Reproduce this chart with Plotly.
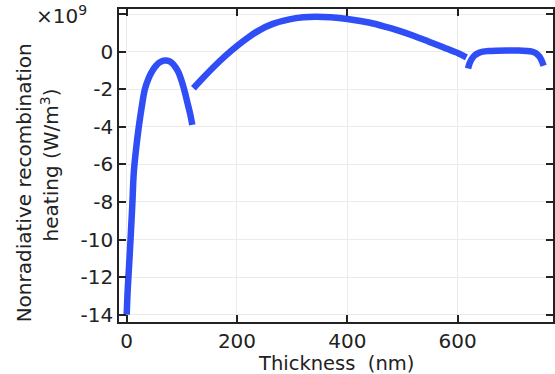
import plotly.graph_objects as go

# Segment 1 (0-120 nm)
x1 = [0, 2, 4, 7, 10, 13, 17, 22, 27, 33, 40, 47, 54, 61, 67, 72, 78, 84, 89, 94, 99, 105, 110, 115, 119]
y1 = [-14, -12.6, -11.6, -10, -8.3, -6.4, -5.2, -4.0, -3.0, -2.0, -1.4, -1.0, -0.72, -0.55, -0.48, -0.47,
      -0.52, -0.66, -0.85, -1.1, -1.5, -2.1, -2.7, -3.3, -3.9]
# Segment 2 (120-617 nm)
x2 = [121, 140, 160, 180, 200, 220, 241, 265, 295, 320, 343, 370, 400, 439, 470, 493, 520, 548, 575, 602, 616]
y2 = [-1.95, -1.35, -0.75, -0.2, 0.3, 0.75, 1.15, 1.48, 1.72, 1.83, 1.86, 1.83, 1.74, 1.55, 1.32, 1.12,
      0.85, 0.53, 0.22, -0.1, -0.3]
# Segment 3 (619-756 nm)
x3 = [619, 622, 626, 631, 638, 646, 655, 670, 690, 710, 725, 735, 742, 748, 752, 756]
y3 = [-0.9, -0.6, -0.38, -0.2, -0.07, 0.0, 0.03, 0.05, 0.06, 0.06, 0.04, 0.0, -0.08, -0.25, -0.45, -0.75]

ytick_vals = [-14, -12, -10, -8, -6, -4, -2, 0, 2]
ytick_text = ["-14", "-12", "-10", "-8", "-6", "-4", "-2", "0", ""]
xtick_vals = [0, 200, 400, 600, 800]

color = "#1f3ff5"
fig = go.Figure()
for xs, ys in [(x1, y1), (x2, y2), (x3, y3)]:
    fig.add_trace(go.Scatter(x=xs, y=ys, mode="lines", line=dict(color=color, width=6.5, shape="spline"),
                             opacity=0.92, showlegend=False, hoverinfo="skip"))

font = dict(family="DejaVu Sans", size=20, color="#222")
axis_common = dict(showline=True, linecolor="#222", linewidth=1.5, mirror="ticks", ticks="inside",
                   ticklen=7, tickcolor="#222", tickwidth=1.5, showgrid=True, gridcolor="#ebebeb",
                   gridwidth=1, zeroline=False, tickfont=font)
fig.update_layout(
    width=555, height=374, margin=dict(l=119, r=0, t=9, b=52),
    plot_bgcolor="white", paper_bgcolor="white", font=font,
    xaxis=dict(range=[-13.9, 773], tickvals=xtick_vals, **axis_common),
    yaxis=dict(range=[-14.39, 2.27], tickvals=ytick_vals, ticktext=ytick_text, **axis_common),
)
fig.add_annotation(text="×10<sup>9</sup>", xref="paper", yref="paper", x=-0.197, y=0.98,
                   xanchor="left", yanchor="middle", showarrow=False, font=font)
fig.add_annotation(text="Nonradiative recombination", xref="paper", yref="paper", x=-0.22, y=0.4446,
                   xanchor="center", yanchor="middle", textangle=-90, showarrow=False, font=font)
fig.add_annotation(text="heating (W/m<sup>3</sup>)", xref="paper", yref="paper", x=-0.16, y=0.502,
                   xanchor="center", yanchor="middle", textangle=-90, showarrow=False, font=font)
fig.add_annotation(text="Thickness\u00a0 (nm)", xref="paper", yref="paper", x=0.5, y=-0.131,
                   xanchor="center", yanchor="middle", showarrow=False,
                   font=dict(family="DejaVu Sans", size=19.5, color="#222"))
fig.write_html("out.html")
